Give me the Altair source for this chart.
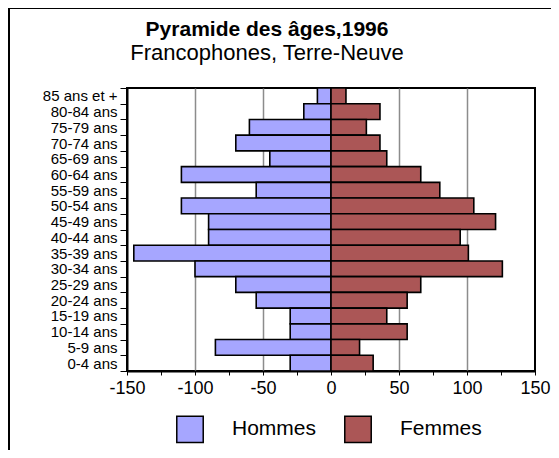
import altair as alt
import pandas as pd

ages = ["85 ans et +", "80-84 ans", "75-79 ans", "70-74 ans", "65-69 ans",
        "60-64 ans", "55-59 ans", "50-54 ans", "45-49 ans", "40-44 ans",
        "35-39 ans", "30-34 ans", "25-29 ans", "20-24 ans", "15-19 ans",
        "10-14 ans", "5-9 ans", "0-4 ans"]
hommes = [-10, -20, -60, -70, -45, -110, -55, -110, -90, -90,
          -145, -100, -70, -55, -30, -30, -85, -30]
femmes = [11, 36, 26, 36, 41, 66, 80, 105, 121, 95,
          101, 126, 66, 56, 41, 56, 21, 31]
series = ["Hommes", "Femmes"]
colors = ["#a6a6ff", "#ab5656"]
x_ticks = list(range(-150, 151, 25))

rows = []
for a, h, f in zip(ages, hommes, femmes):
    rows.append({"age": a, "sexe": "Hommes", "valeur": h})
    rows.append({"age": a, "sexe": "Femmes", "valeur": f})
df = pd.DataFrame(rows)

FONT = "Liberation Sans"

bars = alt.Chart(df).mark_bar(stroke="black", strokeWidth=1.6).encode(
    x=alt.X("valeur:Q", title=None,
            scale=alt.Scale(domain=[-150, 150], nice=False),
            axis=alt.Axis(values=x_ticks,
                          labelExpr="datum.value % 50 === 0 ? '' + datum.value : ''",
                          labelFont=FONT, labelFontSize=18, labelColor="black",
                          labelPadding=4, labelOverlap=False, labelFlush=False,
                          tickColor="black", tickSize=4, tickWidth=1,
                          domainColor="black", domainWidth=2,
                          grid=True, gridColor="#8c8c8c", gridWidth=1.5,
                          gridOpacity={"condition": {"test": "datum.value % 50 === 0 && abs(datum.value) < 150 && datum.value !== 0", "value": 1}, "value": 0})),
    y=alt.Y("age:N", sort=ages, title=None,
            scale=alt.Scale(paddingInner=0, paddingOuter=0),
            axis=alt.Axis(labelFont=FONT, labelFontSize=15, labelColor="black",
                          labelPadding=3, tickBand="extent",
                          tickColor="black", tickSize=7, tickWidth=1,
                          domainColor="black", domainWidth=2, grid=False)),
    color=alt.Color("sexe:N", sort=series,
                    scale=alt.Scale(domain=series, range=colors),
                    legend=alt.Legend(title=None, orient="none", direction="horizontal",
                                      legendX=49, legendY=327, columns=2,
                                      symbolType="square", symbolSize=700,
                                      symbolStrokeColor="black", symbolStrokeWidth=1.5,
                                      symbolOpacity=1,
                                      labelFont=FONT, labelFontSize=21, labelColor="black",
                                      labelOffset=28, columnPadding=24, padding=0)),
)

frame_df = pd.DataFrame({"k": [0]})
frame_left = alt.Chart(frame_df).mark_rule(color="black", strokeWidth=2).encode(
    x=alt.value(-118), y=alt.value(-80), y2=alt.value(400))
frame_top = alt.Chart(frame_df).mark_rule(color="black", strokeWidth=2).encode(
    x=alt.value(-118), x2=alt.value(450), y=alt.value(-80))

chart = alt.layer(bars, frame_left, frame_top).properties(
    width=408, height=283,
    padding={"left": 119, "top": 80, "right": 16, "bottom": 79},
    autosize=alt.AutoSizeParams(type="none"),
    title=alt.TitleParams("Pyramide des âges,1996",
                          subtitle="Francophones, Terre-Neuve",
                          font=FONT, fontSize=21, fontWeight="bold", color="black",
                          subtitleFont=FONT, subtitleFontSize=22, subtitleColor="black",
                          subtitlePadding=3, anchor="middle", dx=-64, offset=-57),
).configure_view(stroke="black", strokeWidth=2)

chart.save("out.html", embed_options={"renderer": "svg", "actions": False})
